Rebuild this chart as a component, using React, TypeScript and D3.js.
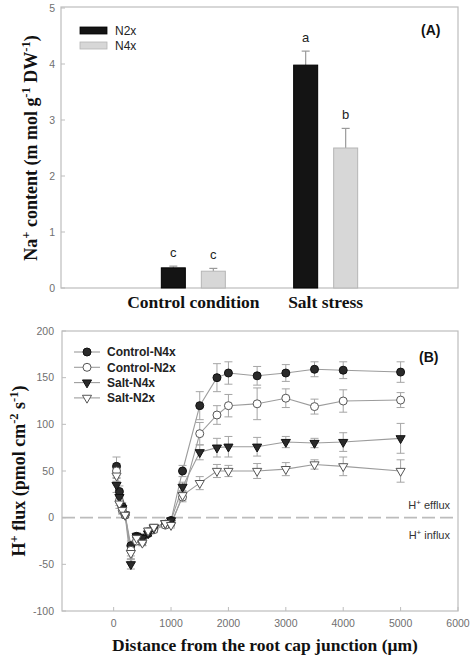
import React from "react";
import * as d3 from "d3";

// ---------- Panel A data ----------
const groups = ["Control condition", "Salt stress"];
const seriesA = ["N2x", "N4x"];
const n2xValues = [0.36, 3.98];
const n2xErrors = [0.03, 0.25];
const n4xValues = [0.3, 2.5];
const n4xErrors = [0.05, 0.35];
const n2xLetters = ["c", "a"];
const n4xLetters = ["c", "b"];
const yTicksA = [0, 1, 2, 3, 4, 5];

// ---------- Panel B data ----------
const distances = [50, 100, 150, 200, 300, 400, 500, 600, 700, 900, 1000, 1200, 1500, 1800, 2000, 2500, 3000, 3500, 4000, 5000];
const controlN4x = [55, 28, 12, 3, -30, -20, -22, -17, -12, -7, -3, 50, 120, 150, 155, 152, 155, 159, 158, 156];
const controlN4xErr = [10, 6, 4, 3, 5, 4, 4, 3, 3, 3, 3, 6, 15, 15, 12, 10, 9, 8, 9, 11];
const controlN2x = [50, 18, 8, 3, -35, -25, -26, -15, -13, -8, -6, 22, 90, 110, 120, 122, 128, 119, 125, 126];
const controlN2xErr = [8, 5, 4, 3, 6, 4, 4, 3, 3, 3, 3, 5, 12, 10, 12, 17, 10, 8, 12, 8];
const saltN4x = [35, 22, 10, 3, -50, -20, -22, -17, -11, -6, -3, 33, 70, 75, 76, 76, 81, 80, 81, 85];
const saltN4xErr = [8, 5, 4, 3, 5, 3, 3, 3, 3, 3, 3, 5, 8, 10, 11, 10, 6, 5, 10, 16];
const saltN2x = [45, 15, 8, 3, -38, -22, -27, -14, -10, -6, -8, 24, 37, 50, 50, 50, 52, 57, 55, 50];
const saltN2xErr = [6, 5, 4, 3, 6, 3, 3, 3, 3, 3, 3, 5, 7, 7, 6, 8, 7, 5, 10, 12];
const seriesNames = ["Control-N4x", "Control-N2x", "Salt-N4x", "Salt-N2x"];
const xTicksB = [0, 1000, 2000, 3000, 4000, 5000, 6000];
const yTicksB = [-100, -50, 0, 50, 100, 150, 200];

const FRAME = "#bdbdbd";
const TICKTXT = "#6f6f6f";
const SANS = "'Liberation Sans', Arial, sans-serif";
const SERIF = "'Liberation Serif', 'Times New Roman', serif";

function Marker({ kind, x, y }: { kind: number; x: number; y: number }) {
  const filled = kind === 0 || kind === 2;
  const fill = filled ? "#2a2a2a" : "#ffffff";
  const stroke = filled ? "#111" : "#555";
  if (kind <= 1) {
    return <circle cx={x} cy={y} r={4} fill={fill} stroke={stroke} strokeWidth={1} />;
  }
  const d = d3.symbol().type(d3.symbolTriangle).size(36)() as string;
  return <path d={d} transform={`translate(${x},${y}) rotate(180)`} fill={fill} stroke={stroke} strokeWidth={1} />;
}

export default function App() {
  // Panel A scales
  const xA = d3.scalePoint<string>().domain(groups).range([61, 458]).padding(1);
  const subA = d3.scaleBand<string>().domain(seriesA).range([-32, 32]).paddingInner(0.4);
  const yA = d3.scaleLinear().domain([0, 5]).range([288, 8]);
  const barsA = [
    { s: "N2x", vals: n2xValues, errs: n2xErrors, letters: n2xLetters, fill: "#141414", stroke: "#000" },
    { s: "N4x", vals: n4xValues, errs: n4xErrors, letters: n4xLetters, fill: "#d7d7d7", stroke: "#b5b5b5" },
  ];

  // Panel B scales
  const xB = d3.scaleLinear().domain([-900, 6000]).range([62, 458]);
  const yB = d3.scaleLinear().domain([-100, 200]).range([611, 331]);
  const seriesB = [
    { vals: controlN4x, errs: controlN4xErr },
    { vals: controlN2x, errs: controlN2xErr },
    { vals: saltN4x, errs: saltN4xErr },
    { vals: saltN2x, errs: saltN2xErr },
  ];
  const line = d3
    .line<number>()
    .x((_, i) => xB(distances[i]))
    .y((v) => yB(v));

  const [ax0, ax1] = xA.range();
  const [ay0, ay1] = yA.range();
  const [bx0, bx1] = xB.range();
  const [by0, by1] = yB.range();

  return (
    <svg width={472} height={660} style={{ position: "absolute", left: 0, top: 0, background: "#fff" }}>
      <rect x={0} y={0} width={472} height={660} fill="#fff" />
      {/* ================= Panel A ================= */}
      <rect x={ax0} y={ay1 - 1} width={ax1 - ax0} height={ay0 - ay1 + 1} fill="none" stroke={FRAME} strokeWidth={1.2} />
      {yTicksA.map((t) => (
        <g key={"ya" + t}>
          <line x1={ax0} x2={ax0 + 4} y1={yA(t)} y2={yA(t)} stroke={FRAME} />
          <text x={55} y={yA(t) + 3.8} textAnchor="end" fontSize={10.5} fontFamily={SANS} fill={TICKTXT}>
            {t}
          </text>
        </g>
      ))}
      {barsA.map((b) =>
        groups.map((g, i) => {
          const cx = (xA(g) as number) + (subA(b.s) as number) + subA.bandwidth() / 2;
          const w = subA.bandwidth();
          const top = yA(b.vals[i]);
          const etop = yA(b.vals[i] + b.errs[i]);
          return (
            <g key={b.s + g}>
              <line x1={cx} x2={cx} y1={top} y2={etop} stroke="#9a9a9a" strokeWidth={1.2} />
              <line x1={cx - 4} x2={cx + 4} y1={etop} y2={etop} stroke="#9a9a9a" strokeWidth={1.2} />
              <rect x={cx - w / 2} y={top} width={w} height={yA(0) - top} fill={b.fill} stroke={b.stroke} strokeWidth={1} />
              <text x={cx} y={etop - 9} textAnchor="middle" fontSize={13} fontFamily={SANS} fill="#222">
                {b.letters[i]}
              </text>
            </g>
          );
        })
      )}
      {groups.map((g) => (
        <text key={"cat" + g} x={xA(g)} y={308} textAnchor="middle" fontSize={17.5} fontWeight="bold" fontFamily={SERIF} fill="#111">
          {g}
        </text>
      ))}
      {/* legend A */}
      {barsA.map((b, i) => (
        <g key={"lgA" + b.s}>
          <rect x={80} y={27 + i * 15} width={27} height={7} fill={b.fill} stroke={b.stroke} strokeWidth={0.8} />
          <text x={115} y={35 + i * 15} fontSize={12} fontFamily={SANS} fill="#222">
            {b.s}
          </text>
        </g>
      ))}
      <text x={421} y={35} fontSize={14} fontWeight="bold" fontFamily={SANS} fill="#111">
        (A)
      </text>
      <text transform={`translate(37,${(ay0 + ay1) / 2}) rotate(-90)`} textAnchor="middle" fontSize={18} fontWeight="bold" fontFamily={SERIF} fill="#111">
        Na<tspan dy={-7} fontSize={12.5}>+</tspan>
        <tspan dy={7}> content (m mol g</tspan>
        <tspan dy={-7} fontSize={12.5}>-1</tspan>
        <tspan dy={7}> DW</tspan>
        <tspan dy={-7} fontSize={12.5}>-1</tspan>
        <tspan dy={7}>)</tspan>
      </text>

      {/* ================= Panel B ================= */}
      <rect x={bx0} y={by1} width={bx1 - bx0} height={by0 - by1} fill="none" stroke={FRAME} strokeWidth={1.2} />
      {yTicksB.map((t) => (
        <g key={"yb" + t}>
          <line x1={bx0} x2={bx0 + 4} y1={yB(t)} y2={yB(t)} stroke={FRAME} />
          <text x={54} y={yB(t) + 3.8} textAnchor="end" fontSize={10.5} fontFamily={SANS} fill={TICKTXT}>
            {t}
          </text>
        </g>
      ))}
      {xTicksB.map((t) => (
        <g key={"xb" + t}>
          <line x1={xB(t)} x2={xB(t)} y1={by0} y2={by0 - 4} stroke={FRAME} />
          <text x={xB(t)} y={627} textAnchor="middle" fontSize={10.5} fontFamily={SANS} fill={TICKTXT}>
            {t}
          </text>
        </g>
      ))}
      <line x1={bx0} x2={bx1} y1={yB(0)} y2={yB(0)} stroke="#bcbcbc" strokeWidth={1.6} strokeDasharray="13 5" />
      <text x={450} y={509} textAnchor="end" fontSize={11} fontFamily={SANS} fill="#333">
        H<tspan dy={-4} fontSize={8}>+</tspan>
        <tspan dy={4}> efflux</tspan>
      </text>
      <text x={450} y={539} textAnchor="end" fontSize={11} fontFamily={SANS} fill="#333">
        H<tspan dy={-4} fontSize={8}>+</tspan>
        <tspan dy={4}> influx</tspan>
      </text>
      {seriesB.map((s, k) => (
        <path key={"ln" + k} d={line(s.vals) as string} fill="none" stroke="#9c9c9c" strokeWidth={1.1} />
      ))}
      {seriesB.map((s, k) => (
        <g key={"eb" + k}>
          {s.vals.map((v, i) => {
            const x = xB(distances[i]);
            const y1 = yB(v + s.errs[i]);
            const y2 = yB(v - s.errs[i]);
            return (
              <g key={i}>
                <line x1={x} x2={x} y1={y1} y2={y2} stroke="#a5a5a5" strokeWidth={1} />
                <line x1={x - 4} x2={x + 4} y1={y1} y2={y1} stroke="#a5a5a5" strokeWidth={1} />
                <line x1={x - 4} x2={x + 4} y1={y2} y2={y2} stroke="#a5a5a5" strokeWidth={1} />
              </g>
            );
          })}
        </g>
      ))}
      {seriesB.map((s, k) => (
        <g key={"mk" + k}>
          {s.vals.map((v, i) => (
            <Marker key={i} kind={k} x={xB(distances[i])} y={yB(v)} />
          ))}
        </g>
      ))}
      {/* legend B */}
      {seriesNames.map((n, i) => {
        const y = 352 + i * 15.3;
        return (
          <g key={"lgB" + n}>
            <line x1={74} x2={100} y1={y} y2={y} stroke="#9c9c9c" strokeWidth={1.1} />
            <Marker kind={i} x={87} y={y} />
            <text x={107} y={y + 4.3} fontSize={12} fontWeight="bold" fontFamily={SANS} fill="#222">
              {n}
            </text>
          </g>
        );
      })}
      <text x={419} y={362} fontSize={14} fontWeight="bold" fontFamily={SANS} fill="#111">
        (B)
      </text>
      <text transform={`translate(25,${(by0 + by1) / 2}) rotate(-90)`} textAnchor="middle" fontSize={18} fontWeight="bold" fontFamily={SERIF} fill="#111">
        H<tspan dy={-7} fontSize={12.5}>+</tspan>
        <tspan dy={7}> flux (pmol cm</tspan>
        <tspan dy={-7} fontSize={12.5}>-2</tspan>
        <tspan dy={7}> s</tspan>
        <tspan dy={-7} fontSize={12.5}>-1</tspan>
        <tspan dy={7}>)</tspan>
      </text>
      <text x={265} y={651} textAnchor="middle" fontSize={17.5} fontWeight="bold" fontFamily={SERIF} fill="#111">
        Distance from the root cap junction (μm)
      </text>
    </svg>
  );
}
